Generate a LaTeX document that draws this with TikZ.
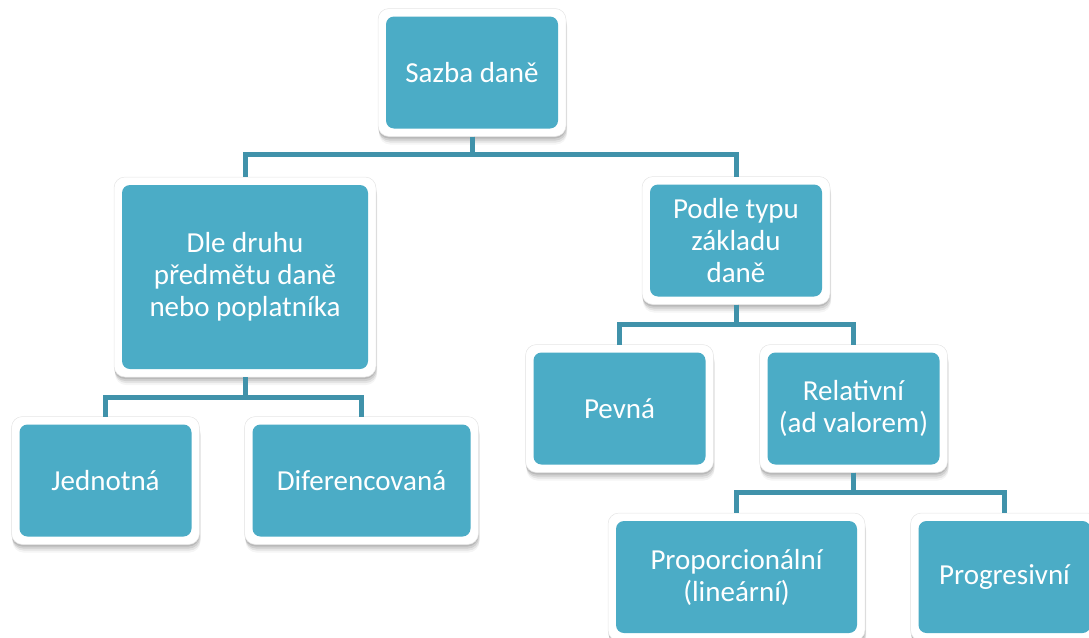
\documentclass[tikz,border=0pt]{standalone}
\usepackage{fontspec}
\setmainfont{Carlito}
\usetikzlibrary{shadows,calc}
\definecolor{boxteal}{RGB}{75,172,198}
\definecolor{linkteal}{RGB}{64,146,170}
\tikzset{
  softshadow/.style={
    drop shadow={shadow xshift=0pt, shadow yshift=-2pt, opacity=0.10, fill=black},
    drop shadow={shadow xshift=0.5pt, shadow yshift=-4pt, opacity=0.09, fill=black},
    drop shadow={shadow xshift=1pt, shadow yshift=-6pt, opacity=0.07, fill=black},
    drop shadow={shadow xshift=1pt, shadow yshift=-8pt, opacity=0.04, fill=black}},
  frame/.style={fill=white, draw=black!10, line width=0.5pt, rounded corners=11pt,
    inner sep=0pt, outer sep=0pt, softshadow},
  core/.style={fill=boxteal, rounded corners=8pt, inner sep=0pt, text=white,
    align=center, font=\fontsize{29}{32}\selectfont},
  link/.style={draw=linkteal, line width=5pt},
}
% name, x, y, outer w, outer h, inner w, inner h, text
\newcommand\mkbox[8]{%
  \node[frame, minimum width=#4pt, minimum height=#5pt] (#1) at (#2,#3) {};
  \node[core, minimum width=#6pt, minimum height=#7pt] (#1-in) at (#1.center) {#8};
}
\begin{document}
\begin{tikzpicture}[x=1pt,y=-1pt]
  \useasboundingbox (0,0) rectangle (1089,637);
  \clip (0,0) rectangle (1089,637);
  \mkbox{s}{472}{72.5}{188}{128}{172}{112}{Sazba daně}
  \mkbox{d}{245}{277}{262}{200}{246}{184}{Dle druhu\\předmětu daně\\nebo poplatníka}
  \mkbox{p}{736}{240.5}{188}{128}{172}{112}{Podle typu\\základu\\daně}
  \mkbox{j}{105.5}{480.5}{188}{128}{172}{112}{Jednotná}
  \mkbox{f}{361.5}{480.5}{234}{128}{218}{112}{Diferencovaná}
  \mkbox{v}{619.5}{408.5}{188}{128}{172}{112}{Pevná}
  \mkbox{r}{853.5}{408.5}{188}{128}{172}{112}{Relativní\\(ad valorem)}
  \mkbox{l}{736.5}{577}{257}{128}{241}{112}{Proporcionální\\(lineární)}
  \mkbox{g}{1004.5}{577}{188}{128}{172}{112}{Progresivní}
  \draw[link] (s.south) -- ++(0,18) -| (d.north);
  \draw[link] (s.south) -- ++(0,18) -| (p.north);
  \draw[link] (d.south) -- ++(0,20) -| (j.north);
  \draw[link] (d.south) -- ++(0,20) -| (f.north);
  \draw[link] (p.south) -- ++(0,20) -| (v.north);
  \draw[link] (p.south) -- ++(0,20) -| (r.north);
  \draw[link] (r.south) -- ++(0,20) -| (l.north);
  \draw[link] (r.south) -- ++(0,20) -| (g.north);
\end{tikzpicture}
\end{document}
